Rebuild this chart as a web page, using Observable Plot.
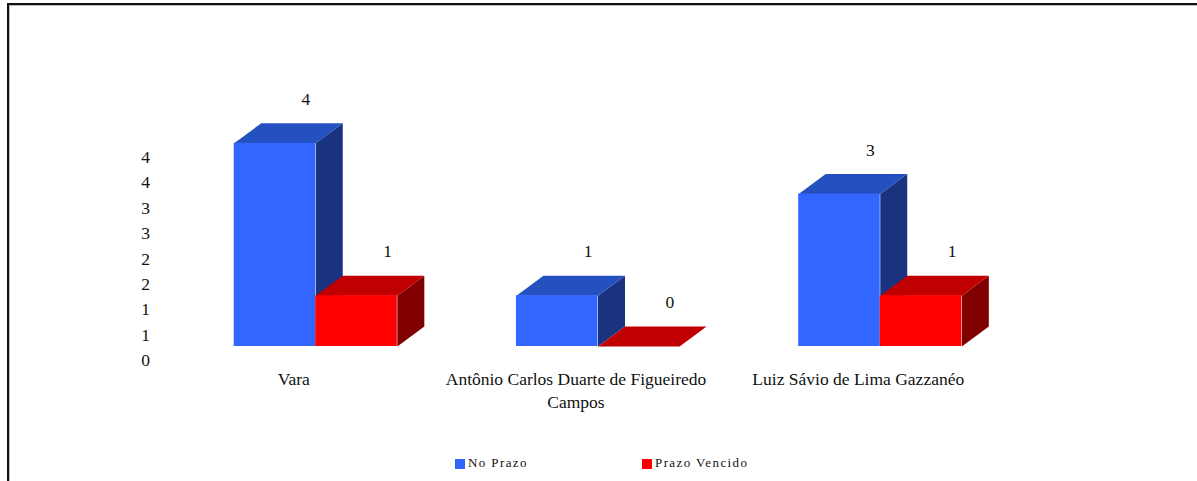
<!DOCTYPE html>
<html>
<head>
<meta charset="utf-8">
<script src="https://cdn.jsdelivr.net/npm/d3@7"></script>
<script src="https://cdn.jsdelivr.net/npm/@observablehq/plot@0.6"></script>
<style>
  html, body { margin: 0; padding: 0; background: #fff; overflow: hidden; }
  #frame { position: absolute; left: 7px; top: 3px; width: 1400px; height: 700px;
           border-left: 2px solid #111; border-top: 2px solid #111; box-shadow: inset 1px 1px 0 #bbb; }
  #chart { position: absolute; left: 0; top: 0; }
  .leg { position: absolute; font-family: "Liberation Serif", "Times New Roman", serif; font-size: 13px; letter-spacing: 1.4px; color: #111; }
  .sw { position: absolute; width: 10px; height: 10px; }
</style>
</head>
<body>
<div id="frame"></div>
<div id="chart"></div>
<div class="sw" style="left:455px; top:459px; background:#3366FF"></div>
<div class="leg" style="left:468px; top:455px">No Prazo</div>
<div class="sw" style="left:642px; top:459px; background:#FF0000"></div>
<div class="leg" style="left:655px; top:455px">Prazo Vencido</div>
<script>
const categories = ["Vara", "Antônio Carlos Duarte de Figueiredo Campos", "Luiz Sávio de Lima Gazzanéo"];
const categoryLabels = ["Vara", "Antônio Carlos Duarte de Figueiredo\nCampos", "Luiz Sávio de Lima Gazzanéo"];
const series = ["No Prazo", "Prazo Vencido"];
const noPrazo = [4, 1, 3];
const prazoVencido = [1, 0, 1];
const yTicks = [0, 0.5, 1, 1.5, 2, 2.5, 3, 3.5, 4];
const yTickLabels = ["0", "1", "1", "2", "2", "3", "3", "4", "4"];

const palette = {
  "No Prazo": {front: "#3366FF", top: "#2550C0", side: "#1A3380"},
  "Prazo Vencido": {front: "#FF0000", top: "#C00000", side: "#800000"}
};

const FONT = "'Liberation Serif', 'Times New Roman', serif";
const FS = 17.5;

// geometry (in data units)
const BW = 0.289;     // bar width in category units
const DX = 0.0957;    // depth offset x
const DY = 0.394;     // depth offset y

const values = [noPrazo, prazoVencido];
const rows = [];
series.forEach((s, si) => {
  categories.forEach((c, i) => {
    const x0 = i - BW + si * BW;
    rows.push({cat: c, series: s, si, x0, x1: x0 + BW, v: values[si][i]});
  });
});

function tops(sname) {
  const out = [];
  rows.filter(r => r.series === sname).forEach((r, k) => {
    const id = sname + k;
    const col = palette[sname].top;
    [[r.x0, r.v], [r.x1, r.v], [r.x1 + DX, r.v + DY], [r.x0 + DX, r.v + DY], [r.x0, r.v]]
      .forEach(([x, y]) => out.push({id, x, y, col}));
  });
  return out;
}
function sides(sname) {
  const out = [];
  rows.filter(r => r.series === sname).forEach((r, k) => {
    const id = sname + k;
    const col = palette[sname].side;
    [[r.x1, 0], [r.x1, r.v], [r.x1 + DX, r.v + DY], [r.x1 + DX, DY], [r.x1, 0]]
      .forEach(([x, y]) => out.push({id, x, y, col}));
  });
  return out;
}

const marks = [];
series.forEach(s => {
  marks.push(Plot.line(sides(s), {x: "x", y: "y", z: "id", fill: "col", stroke: null}));
  marks.push(Plot.line(tops(s), {x: "x", y: "y", z: "id", fill: "col", stroke: null}));
  marks.push(Plot.rect(rows.filter(r => r.series === s), {x1: "x0", x2: "x1", y1: 0, y2: "v", fill: palette[s].front}));
});

marks.push(Plot.text(rows, {
  x: d => (d.x0 + d.x1) / 2, y: "v", text: d => String(d.v),
  dx: 31, dy: -44, fontSize: FS, fontFamily: FONT, fill: "#111"
}));

marks.push(Plot.text(categories, {
  x: (d, i) => i, y: () => 0, text: (d, i) => categoryLabels[i],
  dx: -22, dy: 22, lineAnchor: "top", lineHeight: 1.32, fontSize: FS, fontFamily: FONT, fill: "#111"
}));

marks.push(Plot.text(yTicks, {
  y: d => d, text: (d, i) => yTickLabels[i], frameAnchor: "left",
  dx: 112, dy: 14, textAnchor: "middle", fontSize: FS, fontFamily: FONT, fill: "#111"
}));

const chart = Plot.plot({
  width: 1197,
  height: 440,
  marginLeft: 33,
  marginRight: 35,
  marginTop: 92,
  marginBottom: 94,
  x: {type: "linear", domain: [-1, 3], axis: null},
  y: {type: "linear", domain: [0, 5], axis: null},
  color: {type: "identity"},
  style: {fontFamily: FONT, fontSize: FS + "px", background: "transparent", overflow: "visible"},
  marks
});
document.getElementById("chart").appendChild(chart);
</script>
</body>
</html>
